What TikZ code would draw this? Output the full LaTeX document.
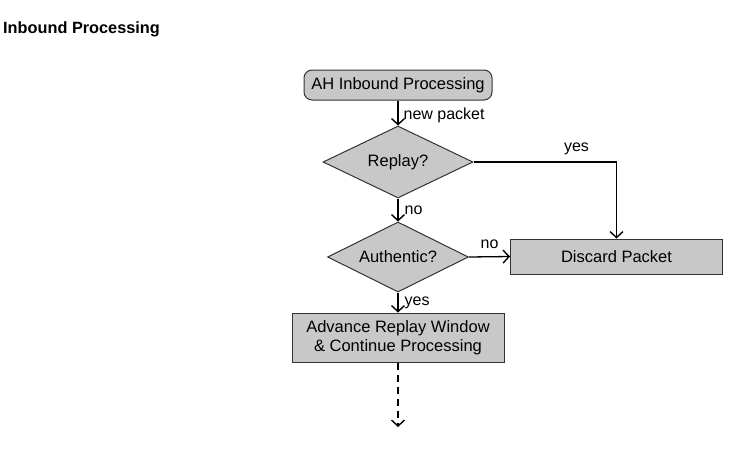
\documentclass[tikz,border=0pt]{standalone}
\usepackage{fontspec}
\setmainfont{Liberation Sans}
\usepackage{tikz}
\usetikzlibrary{
  arrows.meta,
  shapes.geometric,
  positioning,
  calc
}
\definecolor{fcFill}{HTML}{C8C8C8}
\definecolor{fcLine}{HTML}{333333}
\tikzset{
  fcnode/.style={
    draw=fcLine, fill=fcFill, line width=1pt, align=center,
    font=\fontsize{16.5}{19}\selectfont, inner sep=0pt
  },
  fcstart/.style={fcnode, rounded corners=8pt, minimum width=188pt, minimum height=30pt},
  fcdecide/.style={fcnode, diamond, aspect=2},
  fcbox/.style={fcnode, minimum width=212pt, minimum height=35pt},
  flow/.style={-{Straight Barb[length=6pt, width=13pt, line width=1.4pt]}, line width=1.3pt, black},
  lbl/.style={font=\fontsize{16}{18}\selectfont, inner sep=0pt}
}
\begin{document}
\begin{tikzpicture}[x=1pt, y=-1pt]
  \useasboundingbox (0,0) rectangle (756,453);
  \node[font=\bfseries\fontsize{16.3}{19}\selectfont, anchor=west, inner sep=0pt] (title) at (3,29) {Inbound Processing};

  \node[fcstart] (start) at (398,85) {AH Inbound Processing};
  \node[fcdecide, minimum width=150pt, minimum height=72pt] (replay) at (398,162) {Replay?};
  \node[fcdecide, minimum width=141pt, minimum height=70pt] (auth) at (398,257) {Authentic?};
  \node[fcbox] (discard) at (616.5,256.5) {Discard Packet};
  \node[fcbox, minimum height=49pt] (advance) at (398,337.5) {Advance Replay Window\\\& Continue Processing};
  \coordinate (next) at (398,427);

  \draw[flow] (start) -- node[lbl, right, xshift=5pt, yshift=-2pt]{new packet} (replay);
  \draw[flow] (replay.east) -| node[lbl, pos=0.36, above, yshift=7pt]{yes} (discard.north);
  \draw[flow] (replay) -- node[lbl, right, xshift=6pt]{no} (auth);
  \draw[flow] (auth.east) -- node[lbl, above, yshift=7pt]{no} (discard.west);
  \draw[flow] (auth) -- node[lbl, right, xshift=6pt]{yes} (advance);
  \draw[flow, dash pattern=on 7pt off 5pt] (advance) -- (next);
\end{tikzpicture}
\end{document}
